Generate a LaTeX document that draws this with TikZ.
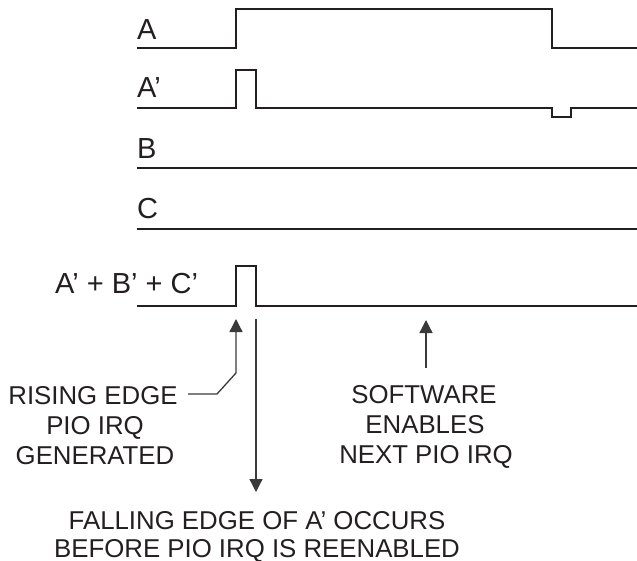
\documentclass[tikz,border=0pt]{standalone}
\usepackage{fontspec}
\setmainfont{Liberation Sans}
\usetikzlibrary{arrows.meta}
\definecolor{ink}{HTML}{231F20}
\definecolor{leader}{HTML}{3A3A3A}
\tikzset{
  wave/.style={draw=ink, line width=2.6pt, line join=miter},
  siglabel/.style={anchor=base west, inner sep=0pt, text=ink, font=\fontsize{29}{31}\selectfont},
  note/.style={anchor=base, inner sep=0pt, text=ink, align=center, font=\fontsize{25.8}{30}\selectfont},
  pointer/.style={draw=leader, line width=1.3pt, -{Triangle[width=13pt,length=13pt]}},
}
\begin{document}
\begin{tikzpicture}[x=1pt,y=-1pt]
\useasboundingbox (0,0) rectangle (637,561);

% signal names
\node[siglabel] (la) at (137,39.5) {A};
\node[siglabel] (lap) at (137,98) {A’};
\node[siglabel] (lb) at (137,159) {B};
\node[siglabel] (lc) at (137,219) {C};
\node[siglabel] (lsum) at (55,294) {A’ + B’ + C’};

% waveforms
\draw[wave] (137,48) -- (236,48) -- (236,9) -- (552,9) -- (552,48) -- (637,48);
\draw[wave] (137,108) -- (236,108) -- (236,70) -- (256,70) -- (256,108)
            -- (552,108) -- (552,117) -- (571,117) -- (571,108) -- (637,108);
\draw[wave] (137,168) -- (637,168);
\draw[wave] (137,229) -- (637,229);
\draw[wave] (137,306) -- (236,306) -- (236,266) -- (256,266) -- (256,306) -- (637,306);

% annotations
\node[note] (rise) at (93,404.5) {RISING EDGE};
\node[note] (rise2) at (95,434.5) {PIO IRQ};
\node[note] (rise3) at (95,464.5) {GENERATED};
\node[note] (sw) at (424,403.5) {SOFTWARE};
\node[note] (sw2) at (425,433.5) {ENABLES};
\node[note] (sw3) at (426,463.5) {NEXT PIO IRQ};
\node[note] (fall) at (257,529) {FALLING EDGE OF A’ OCCURS};
\node[note] (fall2) at (257,557) {BEFORE PIO IRQ IS REENABLED};

% pointers
\coordinate (riseTip) at (236,319);
\coordinate (riseKnee) at (236,373);
\coordinate (riseElbow) at (217,394);
\coordinate (riseStart) at (188,394);
\draw[pointer] (riseStart) -- (riseElbow) -- (riseKnee) -- (riseTip);

\coordinate (fallTop) at (256,319);
\coordinate (fallTip) at (256,492);
\draw[pointer] (fallTop) -- (fallTip);

\coordinate (swBase) at (426,368);
\coordinate (swTip) at (426,320);
\draw[pointer] (swBase) -- (swTip);
\end{tikzpicture}
\end{document}
